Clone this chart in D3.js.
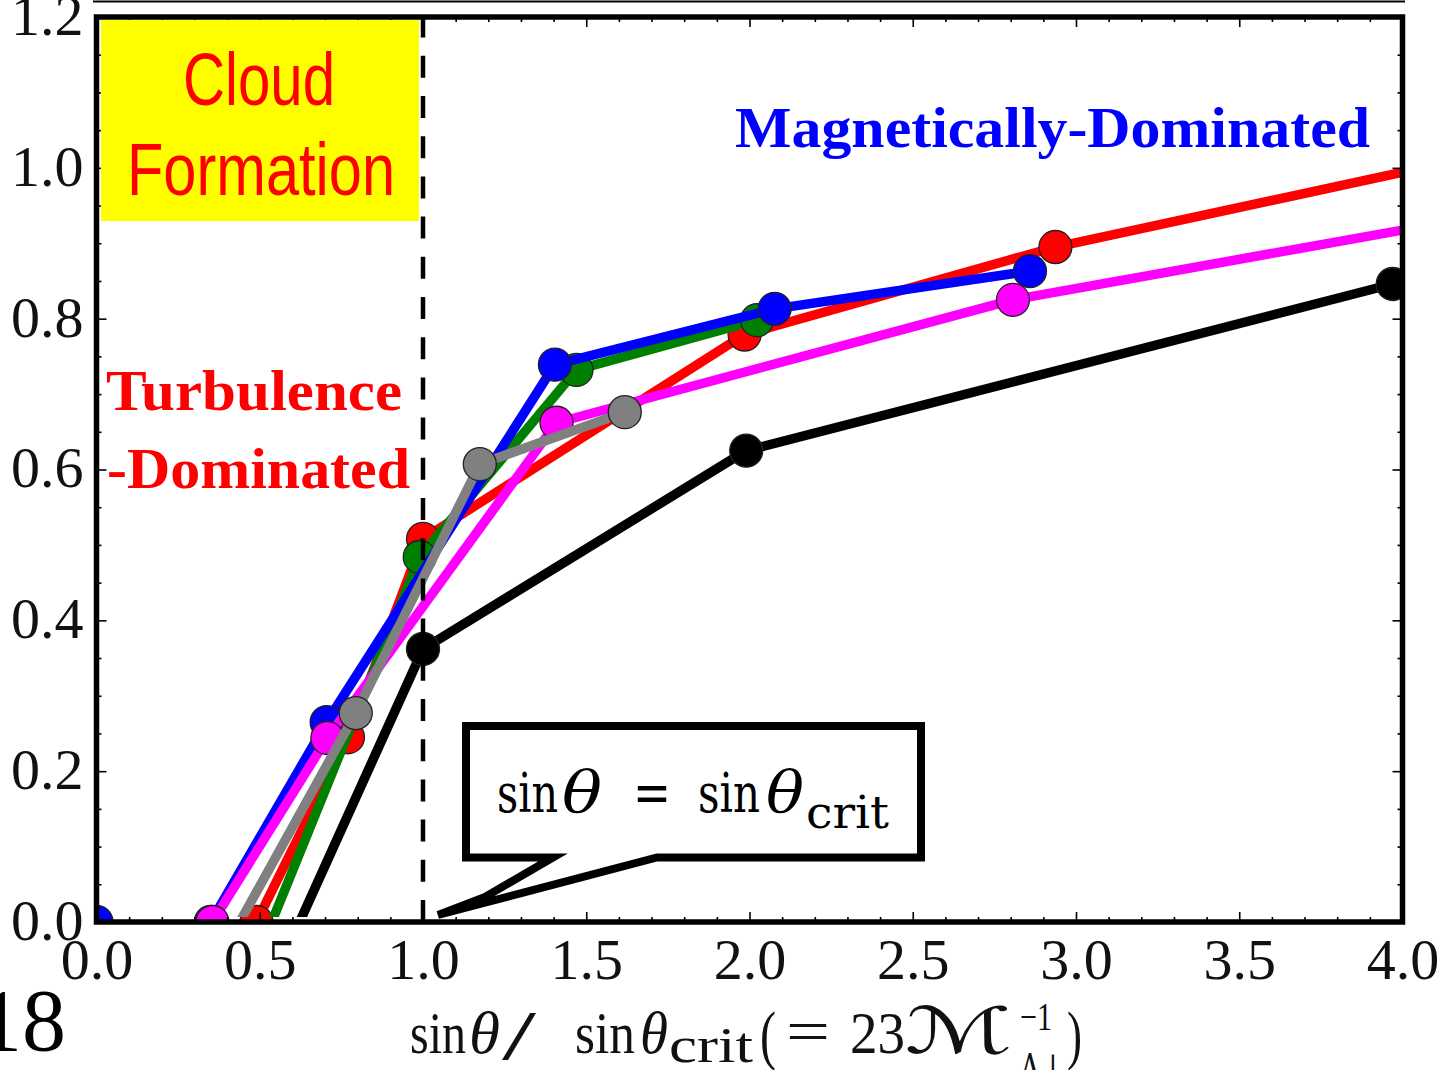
<!DOCTYPE html>
<html>
<head>
<meta charset="utf-8">
<script src="https://cdn.jsdelivr.net/npm/d3@7"></script>
<style>
  html, body { margin: 0; padding: 0; background: #fff; overflow: hidden; }
  svg { display: block; }
</style>
</head>
<body>
<svg id="chart" width="1445" height="1070"></svg>
<script>
// ---- data ---------------------------------------------------------------
const xTickValues = [0, 0.5, 1.0, 1.5, 2.0, 2.5, 3.0, 3.5, 4.0];
const yTickValues = [0, 0.2, 0.4, 0.6, 0.8, 1.0, 1.2];

// [sinθ/sinθcrit, value] pairs, one array per run
const blackPts   = [[0.57, -0.05], [1.0, 0.362], [1.99, 0.625], [3.97, 0.846]];
const redPts     = [[0.49, 0.0], [0.77, 0.245], [1.0, 0.508], [1.985, 0.779], [2.937, 0.895], [4.6, 1.05]];
const greenPts   = [[0.49, -0.05], [0.99, 0.484], [1.47, 0.732], [2.023, 0.798]];
const bluePts    = [[0.0, 0.0], [0.35, 0.0], [0.705, 0.265], [1.404, 0.739], [2.077, 0.813], [2.859, 0.863]];
const magentaPts = [[0.355, 0.0], [0.707, 0.244], [1.409, 0.662], [2.807, 0.825], [4.6, 0.964]];
const grayPts    = [[0.375, -0.05], [0.794, 0.277], [1.174, 0.607], [1.618, 0.676]];

const critRatio = 1.0;   // sinθ = sinθcrit

// ---- layout -------------------------------------------------------------
const svg = d3.select("#chart");
const X0 = 96.5, X1 = 1402.5, Y0 = 922, Y1 = 17;
const x = d3.scaleLinear().domain([0, 4]).range([X0, X1]);
const y = d3.scaleLinear().domain([0, 1.2]).range([Y0, Y1]);

const tickFont = "'Liberation Serif', 'DejaVu Serif', serif";

const defs = svg.append("defs");
defs.append("clipPath").attr("id", "plotClip")
  .append("rect").attr("x", X0).attr("y", Y1).attr("width", X1 - X0).attr("height", Y0 - Y1);
// lines stop at the inner edge of the frame so a run lying on y = 0 hides under it
defs.append("clipPath").attr("id", "lineClip")
  .append("rect").attr("x", X0).attr("y", Y1).attr("width", X1 - X0).attr("height", Y0 - Y1 - 5);

// thin rule above the frame
svg.append("line").attr("x1", 93).attr("x2", 1405).attr("y1", 1.5).attr("y2", 1.5)
  .attr("stroke", "#000").attr("stroke-width", 2.2);

// ---- series -------------------------------------------------------------
const series = [
  { pts: blackPts,   color: "#000000" },
  { pts: redPts,     color: "#ff0000" },
  { pts: greenPts,   color: "#008000" },
  { pts: bluePts,    color: "#0000ff" },
  { pts: magentaPts, color: "#ff00ff" },
  { pts: grayPts,    color: "#808080" }
];

const line = d3.line().x(d => x(d[0])).y(d => y(d[1]));

series.forEach(s => {
  svg.append("g").attr("clip-path", "url(#lineClip)")
    .append("path").datum(s.pts)
    .attr("d", line)
    .attr("fill", "none")
    .attr("stroke", s.color)
    .attr("stroke-width", 9.5)
    .attr("stroke-linejoin", "round");
  svg.append("g").attr("clip-path", "url(#plotClip)")
    .selectAll("circle").data(s.pts).join("circle")
    .attr("cx", d => x(d[0]))
    .attr("cy", d => y(d[1]))
    .attr("r", 16.5)
    .attr("fill", s.color)
    .attr("stroke", "#222")
    .attr("stroke-width", 1.3);
});

// dashed marker at the critical angle
svg.append("line")
  .attr("x1", x(critRatio)).attr("x2", x(critRatio))
  .attr("y1", Y0).attr("y2", Y1)
  .attr("stroke", "#000").attr("stroke-width", 4.5)
  .attr("stroke-dasharray", "22,18.2");

// ---- axes ---------------------------------------------------------------
const xMinor = d3.range(0, 4.0001, 0.1).filter(v => Math.abs(v * 2 - Math.round(v * 2)) > 1e-6);
const yMinor = d3.range(0, 1.2001, 0.05).filter(v => Math.abs(v * 5 - Math.round(v * 5)) > 1e-6);

function styleAxis(g) {
  g.select(".domain").remove();
  g.selectAll(".tick line").attr("stroke", "#000").attr("stroke-width", 1.6);
}

// bottom
svg.append("g").attr("transform", `translate(0,${Y0})`)
  .call(d3.axisBottom(x).tickValues(xTickValues).tickSize(-10).tickPadding(16).tickFormat(d3.format(".1f")))
  .call(styleAxis)
  .call(g => g.selectAll("text").attr("font-family", tickFont).attr("font-size", 58).attr("fill", "#111").attr("dy", "0.71em"));
svg.append("g").attr("transform", `translate(0,${Y0})`)
  .call(d3.axisBottom(x).tickValues(xMinor).tickSize(-5).tickFormat(""))
  .call(styleAxis);
// top
svg.append("g").attr("transform", `translate(0,${Y1})`)
  .call(d3.axisTop(x).tickValues(xTickValues).tickSize(-10).tickFormat(""))
  .call(styleAxis);
svg.append("g").attr("transform", `translate(0,${Y1})`)
  .call(d3.axisTop(x).tickValues(xMinor).tickSize(-5).tickFormat(""))
  .call(styleAxis);
// left
svg.append("g").attr("transform", `translate(${X0},0)`)
  .call(d3.axisLeft(y).tickValues(yTickValues).tickSize(-10).tickPadding(13).tickFormat(d3.format(".1f")))
  .call(styleAxis)
  .call(g => g.selectAll("text").attr("font-family", tickFont).attr("font-size", 58).attr("fill", "#111").attr("dy", "0.3em"));
svg.append("g").attr("transform", `translate(${X0},0)`)
  .call(d3.axisLeft(y).tickValues(yMinor).tickSize(-5).tickFormat(""))
  .call(styleAxis);
// right
svg.append("g").attr("transform", `translate(${X1},0)`)
  .call(d3.axisRight(y).tickValues(yTickValues).tickSize(-10).tickFormat(""))
  .call(styleAxis);
svg.append("g").attr("transform", `translate(${X1},0)`)
  .call(d3.axisRight(y).tickValues(yMinor).tickSize(-5).tickFormat(""))
  .call(styleAxis);

// frame
svg.append("rect").attr("x", X0).attr("y", Y1).attr("width", X1 - X0).attr("height", Y0 - Y1)
  .attr("fill", "none").attr("stroke", "#000").attr("stroke-width", 5.5);

// ---- text helpers -------------------------------------------------------
function piece(str, px, py, size, width, opts = {}) {
  const t = svg.append("text")
    .attr("x", px).attr("y", py)
    .attr("font-family", opts.family || tickFont)
    .attr("font-size", size)
    .attr("fill", opts.fill || "#111")
    .text(str);
  if (opts.italic) t.attr("font-style", "italic");
  if (opts.bold) t.attr("font-weight", "bold");
  if (opts.anchor) t.attr("text-anchor", opts.anchor);
  if (width) t.attr("textLength", width).attr("lengthAdjust", opts.adjust || "spacingAndGlyphs");
  return t;
}

// ---- region annotations -------------------------------------------------
svg.append("rect").attr("x", 101).attr("y", 20).attr("width", 318).attr("height", 201).attr("fill", "#ffff00");
const narrow = "'Liberation Sans Narrow', 'Liberation Sans', Arial, sans-serif";
piece("Cloud", 259, 105, 74, 152, { family: narrow, fill: "#ff0000", anchor: "middle" });
piece("Formation", 261, 195, 74, 268, { family: narrow, fill: "#ff0000", anchor: "middle" });

const boldSerif = "'Liberation Serif', 'DejaVu Serif', serif";
piece("Turbulence", 106, 410, 56, 296, { family: boldSerif, fill: "#ff0000", bold: true });
piece("-Dominated", 107, 488, 56, 303, { family: boldSerif, fill: "#ff0000", bold: true });
piece("Magnetically-Dominated", 735, 147, 56, 635, { family: boldSerif, fill: "#0000ff", bold: true });

// callout for the critical angle
svg.append("path")
  .attr("d", "M466,726 H921 V857.5 H657 L438,915 L485,897 L553,857.5 H466 Z")
  .attr("fill", "#fff").attr("stroke", "#000").attr("stroke-width", 8)
  .attr("stroke-linejoin", "miter").attr("stroke-miterlimit", 6);
const calloutFont = "'DejaVu Serif', 'Liberation Serif', serif";
piece("sin", 497, 812, 54, 61, { family: calloutFont, fill: "#000" });
piece("θ", 562, 812, 58, 40, { family: calloutFont, fill: "#000", italic: true });
piece("=", 633, 812, 58, 38, { family: calloutFont, fill: "#000" });
piece("sin", 698, 812, 54, 62, { family: calloutFont, fill: "#000" });
piece("θ", 766, 812, 58, 38, { family: calloutFont, fill: "#000", italic: true });
piece("crit", 806, 828, 44, 83, { family: calloutFont, fill: "#000" });

// ---- x-axis title -------------------------------------------------------
const titleY = 1053;
piece("sin", 410, titleY, 60, 56);
piece("θ", 469, titleY, 60, 31, { italic: true });
piece("/", 502, titleY + 6, 70, 34);
piece("sin", 575, titleY, 60, 60);
piece("θ", 640, titleY, 60, 28, { italic: true });
piece("crit", 669, titleY + 9, 50, 84);
piece("(", 760, titleY + 4, 66, 16);
piece("=", 786, titleY - 2, 60, 44);
piece("23", 850, titleY, 60, 55);
piece("ℳ", 905, titleY, 64, 108, { family: "'DejaVu Serif', 'DejaVu Sans', serif" });
piece("−1", 1020, 1030, 40, 32);
piece("A⊥", 1020, 1082, 40, 46, { family: "'DejaVu Serif', 'DejaVu Sans', serif" });
piece(")", 1067, titleY + 4, 66, 15);

// page number fragment at lower left
piece("18", 66, 1050, 88, null, { anchor: "end", fill: "#000" });
</script>
</body>
</html>
